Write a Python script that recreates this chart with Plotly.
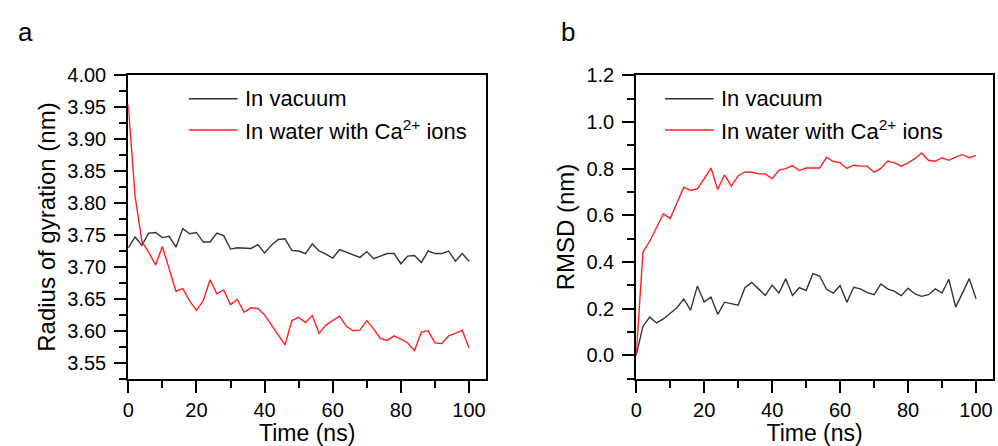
import plotly.graph_objects as go

time_ns = list(range(0, 101, 2))

rg_vacuum = [3.730, 3.747, 3.734, 3.753, 3.754, 3.746, 3.748, 3.731, 3.760, 3.752,
             3.754, 3.739, 3.739, 3.753, 3.749, 3.728, 3.730, 3.730, 3.729, 3.735,
             3.722, 3.734, 3.743, 3.744, 3.726, 3.725, 3.721, 3.736, 3.725, 3.720,
             3.714, 3.727, 3.723, 3.718, 3.715, 3.724, 3.713, 3.717, 3.721, 3.721,
             3.705, 3.717, 3.718, 3.707, 3.725, 3.721, 3.721, 3.725, 3.709, 3.721,
             3.709]
rg_water = [3.954, 3.811, 3.740, 3.723, 3.703, 3.732, 3.697, 3.662, 3.666, 3.647,
            3.632, 3.647, 3.680, 3.658, 3.664, 3.641, 3.649, 3.629, 3.636, 3.635,
            3.625, 3.609, 3.593, 3.578, 3.616, 3.621, 3.613, 3.624, 3.596, 3.609,
            3.616, 3.623, 3.607, 3.600, 3.601, 3.616, 3.603, 3.588, 3.585, 3.592,
            3.587, 3.581, 3.569, 3.598, 3.600, 3.581, 3.580, 3.592, 3.596, 3.601,
            3.573]
rmsd_vacuum = [0.000, 0.125, 0.164, 0.139, 0.156, 0.181, 0.204, 0.242, 0.194, 0.297,
               0.229, 0.250, 0.176, 0.228, 0.222, 0.215, 0.290, 0.313, 0.285, 0.257,
               0.301, 0.267, 0.328, 0.257, 0.290, 0.278, 0.350, 0.340, 0.283, 0.267,
               0.299, 0.228, 0.292, 0.285, 0.269, 0.260, 0.306, 0.285, 0.274, 0.256,
               0.288, 0.263, 0.253, 0.260, 0.285, 0.267, 0.326, 0.207, 0.267, 0.329,
               0.243]
rmsd_water = [0.000, 0.444, 0.489, 0.551, 0.607, 0.586, 0.656, 0.721, 0.707, 0.714,
              0.757, 0.803, 0.711, 0.774, 0.725, 0.769, 0.786, 0.785, 0.778, 0.778,
              0.757, 0.794, 0.800, 0.813, 0.792, 0.803, 0.803, 0.803, 0.849, 0.831,
              0.826, 0.801, 0.815, 0.811, 0.811, 0.785, 0.801, 0.833, 0.825, 0.811,
              0.825, 0.843, 0.867, 0.836, 0.832, 0.847, 0.836, 0.850, 0.860, 0.847,
              0.857]

series_names = ["In vacuum", "In water with Ca<sup>2+</sup> ions"]
series_colors = ["#333333", "#ff2020"]

W, H = 998, 446
FONT = "Liberation Sans, Arial, sans-serif"
TICK = 20
TITLE = 23

fig = go.Figure()
fig.add_trace(go.Scatter(x=time_ns, y=rg_vacuum, mode="lines", line=dict(color=series_colors[0], width=1.4),
                         xaxis="x", yaxis="y", showlegend=False))
fig.add_trace(go.Scatter(x=time_ns, y=rg_water, mode="lines", line=dict(color=series_colors[1], width=1.4),
                         xaxis="x", yaxis="y", showlegend=False))
fig.add_trace(go.Scatter(x=time_ns, y=rmsd_vacuum, mode="lines", line=dict(color=series_colors[0], width=1.4),
                         xaxis="x2", yaxis="y2", showlegend=False))
fig.add_trace(go.Scatter(x=time_ns, y=rmsd_water, mode="lines", line=dict(color=series_colors[1], width=1.4),
                         xaxis="x2", yaxis="y2", showlegend=False))

ydom = [1 - 377 / H, 1 - 66 / H]
ax_common = dict(showgrid=False, zeroline=False, showline=True, mirror=True,
                 linecolor="black", linewidth=2, ticks="outside", ticklen=12, tickwidth=2,
                 tickcolor="black", tickfont=dict(family=FONT, size=TICK, color="black"))
minor_common = dict(ticks="outside", ticklen=7, tickwidth=2, tickcolor="black")
xcommon = dict(ax_common, range=[0, 105], tickvals=[0, 20, 40, 60, 80, 100],
               minor=dict(minor_common, tickvals=[10, 30, 50, 70, 90]),
               title=dict(text="Time (ns)", font=dict(family=FONT, size=TITLE, color="black"), standoff=3))

fig.update_layout(
    width=W, height=H, margin=dict(l=0, r=0, t=0, b=0),
    paper_bgcolor="white", plot_bgcolor="white",
    xaxis=dict(xcommon, domain=[123 / W, 483 / W], anchor="y"),
    yaxis=dict(ax_common, domain=ydom, anchor="x", range=[3.525, 4.0],
               tickvals=[3.55, 3.60, 3.65, 3.70, 3.75, 3.80, 3.85, 3.90, 3.95, 4.00],
               tickformat=".2f", ticklabelstandoff=4,
               minor=dict(minor_common,
                          tickvals=[3.525, 3.575, 3.625, 3.675, 3.725, 3.775, 3.825, 3.875, 3.925, 3.975]),
               title=dict(text="Radius of gyration (nm)", font=dict(family=FONT, size=24, color="black"), standoff=5)),
    xaxis2=dict(xcommon, domain=[634 / W, 993 / W], anchor="y2"),
    yaxis2=dict(ax_common, domain=ydom, anchor="x2", range=[-0.1, 1.2],
                tickvals=[0.0, 0.2, 0.4, 0.6, 0.8, 1.0, 1.2], tickformat=".1f", ticklabelstandoff=4,
                minor=dict(minor_common, tickvals=[-0.1, 0.1, 0.3, 0.5, 0.7, 0.9, 1.1]),
                title=dict(text="RMSD (nm)", font=dict(family=FONT, size=24, color="black"), standoff=5)),
)

# Panel labels
fig.add_annotation(text="a", x=10 / W, y=1 - 22 / H, xref="paper", yref="paper", showarrow=False,
                   xanchor="left", yanchor="middle", font=dict(family=FONT, size=26, color="black"))
fig.add_annotation(text="b", x=556 / W, y=1 - 22 / H, xref="paper", yref="paper", showarrow=False,
                   xanchor="left", yanchor="middle", font=dict(family=FONT, size=26, color="black"))

# Manual legends
legend_specs = [(184, 90), (663, 90)]
for lx, ly in legend_specs:
    for i, (name, col) in enumerate(zip(series_names, series_colors)):
        yy = 1 - (ly + 32 * i) / H
        fig.add_shape(type="line", xref="paper", yref="paper", x0=lx / W, x1=(lx + 49) / W, y0=yy, y1=yy,
                      line=dict(color=col, width=1.5))
        fig.add_annotation(text=name, x=(lx + 54) / W, y=yy, xref="paper", yref="paper", showarrow=False,
                           xanchor="left", yanchor="middle", font=dict(family=FONT, size=22, color="black"))

fig.write_html("out.html")
